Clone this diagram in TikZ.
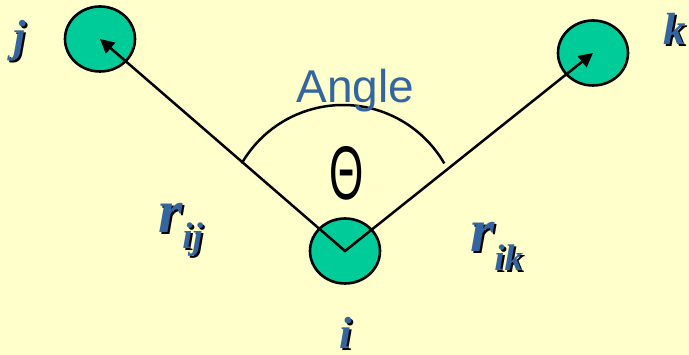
\documentclass[tikz,border=0pt]{standalone}
\usepackage{fontspec}
\setmainfont{Liberation Serif}
\setsansfont{Liberation Sans}
\usepackage{graphicx}
\usetikzlibrary{shapes.geometric, arrows.meta, positioning}

\definecolor{bgyellow}{RGB}{255,255,204}
\definecolor{atomgreen}{RGB}{0,204,153}
\definecolor{labelblue}{RGB}{51,102,160}

% blue text with a dark drop shadow
\newcommand{\shadowed}[1]{\makebox[0pt][l]{\kern2pt\raisebox{-1.5pt}{\color{black}#1}}#1}

\begin{document}
\begin{tikzpicture}[
    x=1pt, y=1pt,
    atom/.style={ellipse, draw=black, line width=2.6pt, fill=atomgreen, minimum width=70pt, minimum height=65pt, inner sep=0pt},
    bond/.style={{Triangle[length=14pt, width=14pt]}-{Triangle[length=14pt, width=14pt]}, line width=2.5pt, line join=miter},
    tag/.style={inner sep=0pt, text=labelblue, font=\bfseries\itshape\fontsize{45}{45}\selectfont},
    dist/.style={inner sep=0pt, text=labelblue, font=\bfseries\itshape},
]
\fill[bgyellow] (0,0) rectangle (689,355);
\useasboundingbox (0,0) rectangle (689,355);

\node[atom] (j) at (100,316) {};
\node[atom] (k) at (593,302) {};
\node[atom] (i) at (345,104) {};

\draw[bond] (j.center) -- (i.center) -- (k.center);

% angle arc
\coordinate (o) at (343,133);
\draw[line width=2.5pt] (o) ++(150:117) arc[start angle=150, end angle=30, radius=117];

\node[anchor=base, inner sep=0pt, text=labelblue, font=\sffamily\fontsize{46}{46}\selectfont] (angle) at (355.5,252.3) {Angle};
\node[inner sep=0pt, font=\sffamily\fontsize{76}{76}\selectfont] (theta) at (347,182) {\scalebox{0.58}[1]{Θ}};

\node[tag, anchor=base] (jl) at (20,303) {\shadowed{j}};
\node[tag, anchor=base] (kl) at (675,310) {\shadowed{k}};
\node[tag, anchor=base] (il) at (346,6) {\shadowed{i}};

\node[dist, anchor=base west] (rij) at (158,122) {\shadowed{{\fontsize{62}{62}\selectfont r}\raisebox{-16pt}{\fontsize{37}{37}\selectfont ij}}};
\node[dist, anchor=base west] (rik) at (470,103) {\shadowed{{\fontsize{62}{62}\selectfont r}\raisebox{-19pt}{\fontsize{37}{37}\selectfont ik}}};
\end{tikzpicture}
\end{document}
